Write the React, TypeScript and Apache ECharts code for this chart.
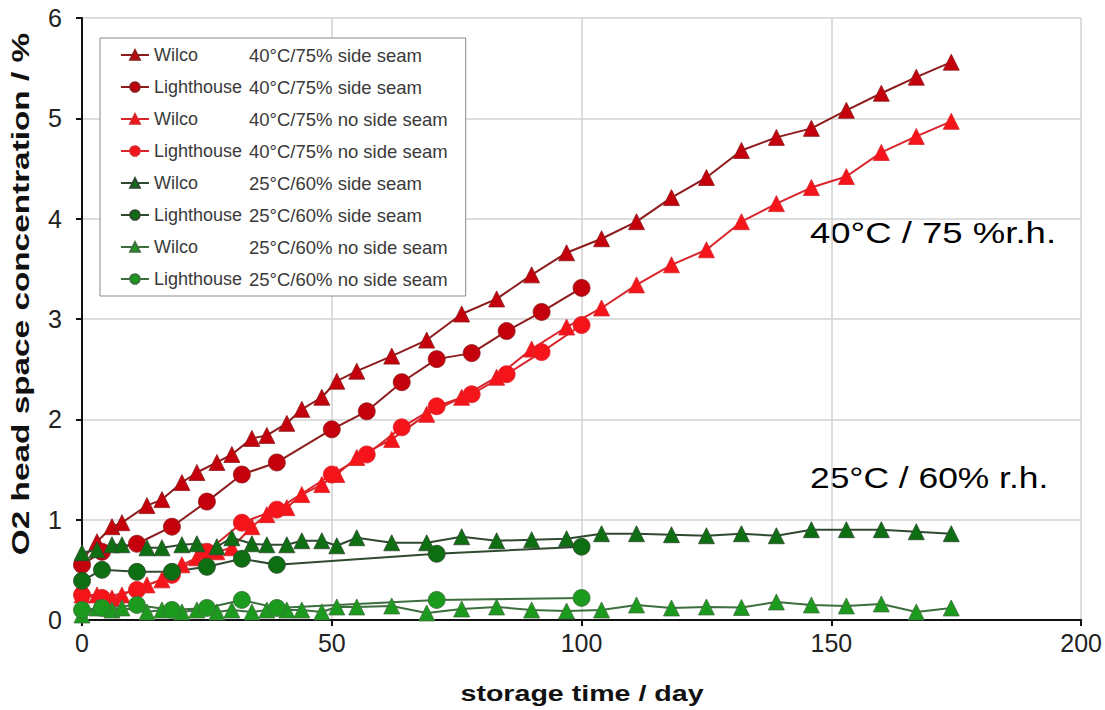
import React, { useEffect, useRef } from "react";
import * as echarts from "echarts";

// ---- data ----
const wilcoDays = [0, 3, 6, 8, 13, 16, 20, 23, 27, 30, 34, 37, 41, 44, 48, 51, 55, 62, 69, 76, 83, 90, 97, 104, 111, 118, 125, 132, 139, 146, 153, 160, 167, 174];
const wilco40Seam = [0.6, 0.78, 0.93, 0.97, 1.14, 1.2, 1.37, 1.47, 1.57, 1.65, 1.81, 1.84, 1.96, 2.1, 2.22, 2.38, 2.48, 2.63, 2.79, 3.05, 3.2, 3.44, 3.66, 3.8, 3.97, 4.21, 4.41, 4.68, 4.81, 4.9, 5.08, 5.25, 5.41, 5.56];
const wilco40NoSeam = [0.25, 0.25, 0.22, 0.25, 0.35, 0.4, 0.55, 0.62, 0.68, 0.72, 0.93, 1.05, 1.12, 1.25, 1.35, 1.45, 1.62, 1.8, 2.05, 2.22, 2.42, 2.7, 2.92, 3.11, 3.34, 3.54, 3.69, 3.97, 4.15, 4.31, 4.42, 4.66, 4.82, 4.97];
const wilco25Seam = [0.67, 0.7, 0.75, 0.75, 0.72, 0.72, 0.75, 0.76, 0.73, 0.82, 0.76, 0.75, 0.75, 0.79, 0.79, 0.74, 0.82, 0.77, 0.77, 0.83, 0.79, 0.8, 0.81, 0.86, 0.86, 0.85, 0.84, 0.86, 0.84, 0.9, 0.9, 0.9, 0.88, 0.86];
const wilco25NoSeam = [0.05, 0.12, 0.1, 0.12, 0.08, 0.1, 0.08, 0.1, 0.08, 0.1, 0.08, 0.1, 0.1, 0.1, 0.08, 0.13, 0.13, 0.14, 0.07, 0.11, 0.13, 0.1, 0.09, 0.1, 0.15, 0.12, 0.13, 0.125, 0.18, 0.15, 0.14, 0.16, 0.08, 0.12];

const lighthouseDays = [0, 4, 11, 18, 25, 32, 39, 50, 57, 64, 71, 78, 85, 92, 100];
const lh40Seam = [0.55, 0.68, 0.76, 0.93, 1.18, 1.45, 1.57, 1.9, 2.08, 2.37, 2.6, 2.66, 2.88, 3.07, 3.31];
const lh40NoSeam = [0.25, 0.22, 0.3, 0.45, 0.68, 0.97, 1.1, 1.45, 1.65, 1.92, 2.13, 2.25, 2.45, 2.67, 2.94];

const lh25Days = [0, 4, 11, 18, 25, 32, 39, 71, 100];
const lh25Seam = [0.39, 0.5, 0.48, 0.48, 0.53, 0.61, 0.55, 0.66, 0.73];
const lh25NoSeam = [0.1, 0.12, 0.15, 0.1, 0.12, 0.2, 0.12, 0.2, 0.22];

const seriesNames = [
  "Wilco 40°C/75% side seam",
  "Lighthouse 40°C/75% side seam",
  "Wilco 40°C/75% no side seam",
  "Lighthouse 40°C/75% no side seam",
  "Wilco 25°C/60% side seam",
  "Lighthouse 25°C/60% side seam",
  "Wilco 25°C/60% no side seam",
  "Lighthouse 25°C/60% no side seam",
];

const annotations = ["40°C / 75 %r.h.", "25°C / 60% r.h."];
const xTitle = "storage time / day";
const yTitle = "O2 head space concentration / %";

const zip = (xs: number[], ys: number[]) => xs.map((x, i) => [x, ys[i]]);

const FONT = "Liberation Sans, Arial, sans-serif";

export default function App() {
  const ref = useRef<HTMLDivElement>(null);
  useEffect(() => {
    if (!ref.current) return;
    const chart = echarts.init(ref.current, null, { renderer: "svg" });

    const mk = (
      name: string,
      data: number[][],
      symbol: string,
      color: string,
      lineColor: string,
      size: number
    ) => ({
      name,
      type: "line",
      data,
      symbol,
      symbolSize: size,
      itemStyle: { color, borderColor: lineColor, borderWidth: 0.8 },
      lineStyle: { color: lineColor, width: 2 },
      emphasis: { disabled: true },
    });

    const darkRed = "#C4000C";
    const darkRedLine = "#8E1B1B";
    const red = "#F5141A";
    const redLine = "#D8242A";
    const darkGreen = "#0E6E12";
    const darkGreenLine = "#2F4A30";
    const green = "#1C9A1E";
    const greenLine = "#3D6E3E";

    chart.setOption({
      animation: false,
      backgroundColor: "#ffffff",
      grid: { left: 82, right: 23, top: 18, bottom: 90, containLabel: false },
      xAxis: {
        type: "value",
        min: 0,
        max: 200,
        interval: 50,
        axisLine: { show: true, lineStyle: { color: "#111", width: 2 } },
        axisTick: { show: true, inside: false, length: 6, lineStyle: { color: "#111", width: 2 } },
        axisLabel: { fontFamily: FONT, fontSize: 25, color: "#222", margin: 10 },
        splitLine: { show: true, lineStyle: { color: "#d2d2d2", width: 1.5 } },
      },
      yAxis: {
        type: "value",
        min: 0,
        max: 6,
        interval: 1,
        axisLine: { show: true, lineStyle: { color: "#111", width: 2 } },
        axisTick: { show: true, inside: false, length: 6, lineStyle: { color: "#111", width: 2 } },
        axisLabel: { fontFamily: FONT, fontSize: 25, color: "#222", margin: 20 },
        splitLine: { show: true, lineStyle: { color: "#d2d2d2", width: 1.5 } },
      },
      legend: {
        orient: "vertical",
        left: 100,
        top: 38,
        padding: [7, 18, 7, 20],
        itemGap: 12,
        itemWidth: 28,
        itemHeight: 12,
        backgroundColor: "#fff",
        borderColor: "#8a8a8a",
        borderWidth: 1,
        data: seriesNames,
        formatter: (name: string) => {
          const i = name.indexOf(" ");
          return `{a|${name.slice(0, i)}}{b|${name.slice(i + 1)}}`;
        },
        textStyle: {
          fontFamily: FONT,
          fontSize: 18,
          color: "#3a3a3a",
          lineHeight: 20,
          rich: {
            a: { width: 95, fontSize: 18, color: "#3a3a3a", fontFamily: FONT },
            b: { fontSize: 18.5, color: "#3a3a3a", fontFamily: FONT },
          },
        },
      },
      graphic: [
        {
          type: "text",
          x: 810,
          y: 233,
          scaleX: 1.26,
          style: { text: annotations[0], fontFamily: FONT, fontSize: 29, fill: "#000", align: "left", verticalAlign: "middle" },
        },
        {
          type: "text",
          x: 810,
          y: 478,
          scaleX: 1.22,
          style: { text: annotations[1], fontFamily: FONT, fontSize: 29, fill: "#000", align: "left", verticalAlign: "middle" },
        },
        {
          type: "text",
          x: 582,
          y: 693,
          scaleX: 1.3,
          style: { text: xTitle, fontFamily: FONT, fontWeight: "bold", fontSize: 22, fill: "#111", align: "center", verticalAlign: "middle" },
        },
        {
          type: "text",
          x: 21,
          y: 294,
          rotation: Math.PI / 2,
          scaleX: 1.45,
          style: { text: yTitle, fontFamily: FONT, fontWeight: "bold", fontSize: 23, fill: "#111", align: "center", verticalAlign: "middle" },
        },
      ],
      series: [
        mk(seriesNames[0], zip(wilcoDays, wilco40Seam), "triangle", darkRed, darkRedLine, 16),
        mk(seriesNames[1], zip(lighthouseDays, lh40Seam), "circle", darkRed, darkRedLine, 17),
        mk(seriesNames[2], zip(wilcoDays, wilco40NoSeam), "triangle", red, redLine, 16),
        mk(seriesNames[3], zip(lighthouseDays, lh40NoSeam), "circle", red, redLine, 17),
        mk(seriesNames[4], zip(wilcoDays, wilco25Seam), "triangle", darkGreen, darkGreenLine, 16),
        mk(seriesNames[5], zip(lh25Days, lh25Seam), "circle", darkGreen, darkGreenLine, 17),
        mk(seriesNames[6], zip(wilcoDays, wilco25NoSeam), "triangle", green, greenLine, 16),
        mk(seriesNames[7], zip(lh25Days, lh25NoSeam), "circle", green, greenLine, 17),
      ],
    });
    return () => chart.dispose();
  }, []);
  return (
    <div
      ref={ref}
      style={{ position: "fixed", left: 0, top: 0, width: 1105, height: 710, background: "#fff" }}
    />
  );
}
